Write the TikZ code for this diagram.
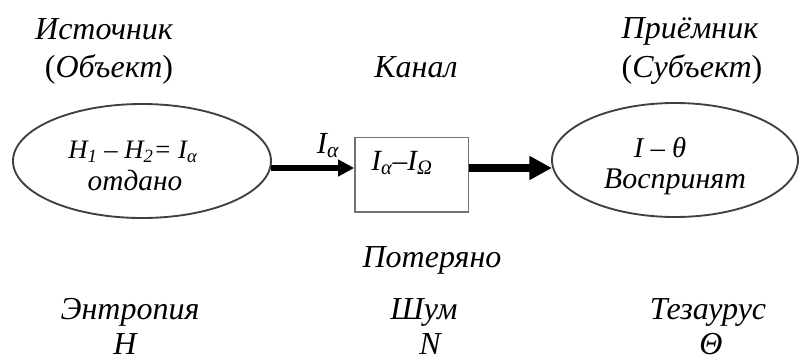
\documentclass[tikz,border=0pt]{standalone}
\usepackage{fontspec}
\setmainfont{Liberation Serif}
\usetikzlibrary{arrows.meta}
\tikzset{
  lbl/.style={font=\fontsize{24}{28}\selectfont\itshape, anchor=base, inner sep=0pt},
  inlbl/.style={font=\fontsize{22}{26}\selectfont\itshape, anchor=base, inner sep=0pt},
  oval/.style={draw=black!75, line width=1.4pt},
  chan/.style={draw=black!55, line width=1pt},
  flow/.style={-{Triangle[length=12pt,width=12pt]}, line width=4pt},
  flowbig/.style={-{Triangle[length=17pt,width=17pt]}, line width=6pt},
}
\begin{document}
\begin{tikzpicture}[x=0.75pt,y=-0.75pt]
\useasboundingbox (0,0) rectangle (800,361);
% ellipses
\draw[oval] (142,161) ellipse [x radius=129, y radius=57];
\draw[oval] (675,160) ellipse [x radius=123, y radius=57];
\coordinate (lE) at (271,168);
\coordinate (rW) at (552,168);
% channel box
\node[chan, minimum width=85pt, minimum height=56pt, inner sep=0pt] (box) at (411.5,174.5) {};
\node[inlbl] (boxt) at (402,170) {I\textsubscript{α}–I\textsubscript{Ω}};
% arrows
\draw[flow] (lE) -- (box.west |- lE);
\draw[flowbig] (box.east |- rW) -- (rW);
\node[inlbl, font=\fontsize{23}{26}\selectfont\itshape] (ia) at (328,153) {I\textsubscript{α}};
% ellipse contents
\node[inlbl, font=\fontsize{20}{24}\selectfont\itshape] (lt1) at (133,158) {H\textsubscript{1} – H\textsubscript{2}= I\textsubscript{α}};
\node[inlbl] (lt2) at (135,190) {отдано};
\node[inlbl, font=\fontsize{21.5}{24}\selectfont\itshape] (rt1) at (660,157) {I – θ};
\node[inlbl, font=\fontsize{22.5}{24}\selectfont\itshape] (rt2) at (675,188) {Воспринят};
% top labels
\node[lbl] (src) at (104,39) {Источник};
\node[lbl] (srco) at (109,77) {{\upshape(}Объект{\upshape)}};
\node[lbl] (can) at (416,77) {Канал};
\node[lbl] (rcv) at (690,38) {Приёмник};
\node[lbl] (rcvs) at (692,77) {{\upshape(}Субъект{\upshape)}};
% bottom labels
\node[lbl] (lost) at (432,267) {Потеряно};
\node[lbl] (ent) at (130,319) {Энтропия};
\node[lbl] (entH) at (125,354) {H};
\node[lbl] (noi) at (424,319) {Шум};
\node[lbl] (noiN) at (430,354) {N};
\node[lbl] (tez) at (708,319) {Тезаурус};
\node[lbl] (tezT) at (711,354) {Θ};
\end{tikzpicture}
\end{document}
